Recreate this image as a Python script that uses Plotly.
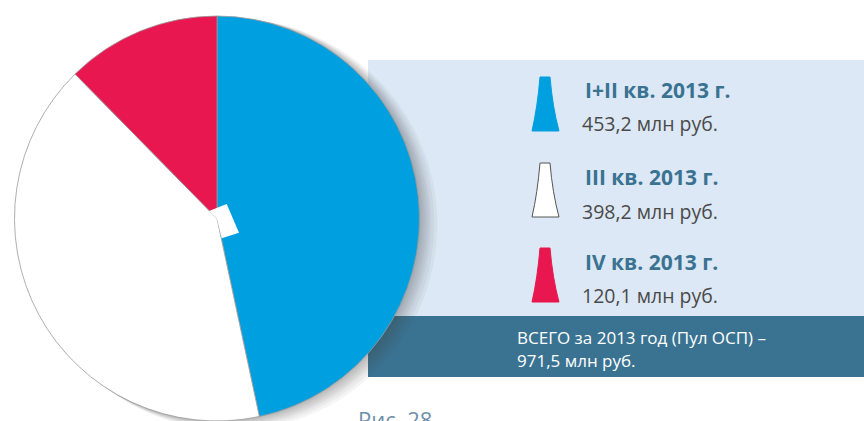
import plotly.graph_objects as go

W, H = 864, 421

# ---- data ----
categories = ["I+II кв. 2013 г.", "III кв. 2013 г.", "IV кв. 2013 г."]
values = [453.2, 398.2, 120.1]
value_labels = ["453,2 млн руб.", "398,2 млн руб.", "120,1 млн руб."]
colors = ["#009fdf", "#ffffff", "#e8174f"]
total_text = ["ВСЕГО за 2013 год (Пул ОСП) –", "971,5 млн руб."]
caption = "Рис. 28"

def px(x):
    return x / W

def py(y):
    return 1 - y / H

fig = go.Figure()

# pie geometry (pixels)
cx, cy, r = 217, 218.5, 202.5
fig.add_trace(go.Pie(
    values=values,
    labels=categories,
    marker=dict(colors=colors, line=dict(color="#9a9a9a", width=0.8)),
    sort=False,
    direction="clockwise",
    rotation=0,
    textinfo="none",
    hoverinfo="label+value",
    showlegend=False,
    domain=dict(x=[px(cx - r), px(cx + r)], y=[max(0, py(cy + r)), py(cy - r)]),
))

shapes = []
# light blue panel
shapes.append(dict(type="rect", xref="paper", yref="paper", layer="below",
                   x0=px(368), x1=1, y0=py(316), y1=py(60),
                   fillcolor="#dce8f5", line=dict(width=0)))
# teal band
shapes.append(dict(type="rect", xref="paper", yref="paper", layer="below",
                   x0=px(368), x1=1, y0=py(377), y1=py(316),
                   fillcolor="#3a7391", line=dict(width=0)))
# soft shadow of the pie (right side)
for dr in [17, 14, 11, 9, 7, 5, 3, 1.5]:
    sx, sy = cx + 0.85 * dr, cy + 0.35 * dr
    shapes.append(dict(type="circle", xref="paper", yref="paper", layer="below",
                       x0=px(sx - r - dr * 0.2), x1=px(sx + r + dr * 0.2),
                       y0=py(sy + r + dr * 0.2), y1=py(sy - r - dr * 0.2),
                       fillcolor="rgba(70,70,70,0.055)", line=dict(width=0)))
# white notch near the centre
notch = [(209, 211), (226.7, 204), (239, 232.7), (221.7, 238.3), (217, 219)]
path = "M " + " L ".join(f"{px(x)},{py(y)}" for x, y in notch) + " Z"
shapes.append(dict(type="path", xref="paper", yref="paper", layer="above",
                   path=path, fillcolor="#ffffff", line=dict(width=0)))

# legend icons (tapered shapes)
icon_tops = [77, 163, 248]
icon_h = 54
line_cols = ["#009fdf", "#555555", "#e8174f"]
for top, col, lc in zip(icon_tops, colors, line_cols):
    bot = top + icon_h
    p = (f"M {px(540)},{py(top)} L {px(550)},{py(top)} "
         f"Q {px(552.5)},{py(top + 30)} {px(559)},{py(bot)} "
         f"L {px(532)},{py(bot)} "
         f"Q {px(537.5)},{py(top + 30)} {px(540)},{py(top)} Z")
    shapes.append(dict(type="path", xref="paper", yref="paper", layer="above",
                       path=p, fillcolor=col, line=dict(color=lc, width=1)))

annotations = []
title_y = [90, 177, 262]
value_y = [124, 211, 295]
for cat, vl, ty, vy in zip(categories, value_labels, title_y, value_y):
    annotations.append(dict(x=px(583), y=py(ty), xref="paper", yref="paper",
                            text=f"<b>{cat}</b>", showarrow=False,
                            xanchor="left", yanchor="middle",
                            font=dict(family="Open Sans", size=21, color="#3a7391")))
    annotations.append(dict(x=px(580), y=py(vy), xref="paper", yref="paper",
                            text=vl, showarrow=False,
                            xanchor="left", yanchor="middle",
                            font=dict(family="Open Sans", size=19.5, color="#4a4a4a")))
for t, yy in zip(total_text, [337, 360]):
    annotations.append(dict(x=px(515), y=py(yy), xref="paper", yref="paper",
                            text=t, showarrow=False,
                            xanchor="left", yanchor="middle",
                            font=dict(family="Open Sans", size=17, color="#ffffff")))
annotations.append(dict(x=px(356), y=py(419), xref="paper", yref="paper",
                        text=caption, showarrow=False,
                        xanchor="left", yanchor="middle",
                        font=dict(family="Open Sans", size=22, color="#6f8fa8")))

fig.update_layout(
    width=W, height=H,
    margin=dict(l=0, r=0, t=0, b=0),
    paper_bgcolor="#ffffff",
    plot_bgcolor="#ffffff",
    shapes=shapes,
    annotations=annotations,
)

fig.write_html(
    "out.html",
    config={"displayModeBar": False},
    post_script="document.body.style.margin='0';document.body.style.overflow='hidden';",
)
